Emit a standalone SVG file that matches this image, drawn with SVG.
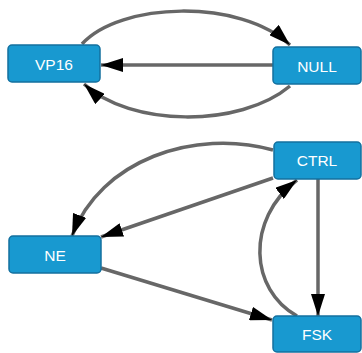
<svg xmlns="http://www.w3.org/2000/svg" width="362" height="353" viewBox="0 0 362 353">
<style>
.node rect{fill:#1899d0;stroke:#13709f;stroke-width:1.5}
.node text{fill:#ffffff;font-family:"Liberation Sans",Arial,sans-serif;font-size:15.5px;text-anchor:middle}
.edge{fill:none;stroke:#676767;stroke-width:3.5}
</style>
<defs>
<marker id="arr" markerUnits="userSpaceOnUse" markerWidth="23" markerHeight="14" refX="22" refY="7" orient="auto">
<path d="M0,0 L22,7 L0,14 z" fill="#000"/>
</marker>
</defs>
<g id="connectors">
<path class="edge" d="M82,44 C120,2 240,-2 290,45" marker-end="url(#arr)"/>
<path class="edge" d="M273,65 L101,65" marker-end="url(#arr)"/>
<path class="edge" d="M290,86 C240,128 130,127 84,84" marker-end="url(#arr)"/>
<path class="edge" d="M273,150 C195,128 100,160 72,236" marker-end="url(#arr)"/>
<path class="edge" d="M273,178 L101,237" marker-end="url(#arr)"/>
<path class="edge" d="M318,179 L318,316" marker-end="url(#arr)"/>
<path class="edge" d="M297,316 C250,290 245,220 297,180" marker-end="url(#arr)"/>
<path class="edge" d="M101,268 L272,320" marker-end="url(#arr)"/>
</g>
<g id="VP16" class="node"><rect x="8" y="45" width="92" height="37" rx="4"/><text x="54" y="69.5">VP16</text></g>
<g id="NULL" class="node"><rect x="273" y="47" width="88" height="37" rx="4"/><text x="317" y="71.5">NULL</text></g>
<g id="CTRL" class="node"><rect x="274" y="142" width="87" height="37" rx="4"/><text x="317" y="166">CTRL</text></g>
<g id="NE" class="node"><rect x="9" y="236" width="92" height="37" rx="4"/><text x="55" y="260.5">NE</text></g>
<g id="FSK" class="node"><rect x="273" y="316" width="88" height="36" rx="4"/><text x="317" y="340">FSK</text></g>
</svg>
